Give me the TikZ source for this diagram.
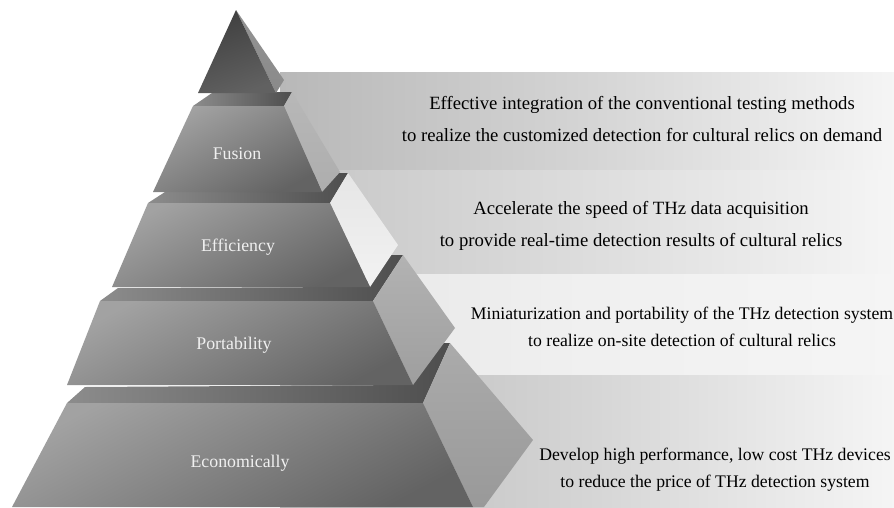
\documentclass[tikz,border=0pt]{standalone}
\usepackage{fontspec}
\setmainfont{Liberation Serif}
\begin{document}
\begin{tikzpicture}[x=1pt,y=-1pt,
  desc/.style={align=center,text=black,font=\fontsize{18.7}{32}\selectfont},
  desctwo/.style={align=center,text=black,font=\fontsize{17.7}{27}\selectfont},
  lvl/.style={text=white!94!black,font=\fontsize{17.8}{20}\selectfont},
  frontface/.style={top color=fronttop,bottom color=frontbot,shading angle=28},
  topface/.style={left color=stripL,right color=stripR},
  bandstyle/.style={left color=#1,right color=white!96!black,middle color=#1!60!white}
]
\definecolor{fronttop}{HTML}{A2A2A2}
\definecolor{frontbot}{HTML}{636363}
\definecolor{stripL}{HTML}{8C8C8C}
\definecolor{stripR}{HTML}{4E4E4E}
\definecolor{bandA}{HTML}{B8B8B8}
\definecolor{bandB}{HTML}{C6C6C6}
\definecolor{bandC}{HTML}{E6E6E6}
\definecolor{bandD}{HTML}{B9B9B9}
\useasboundingbox (0,0) rectangle (894,507);
\fill[white] (0,0) rectangle (894,507);
% background bands
\shade[bandstyle=bandA] (280,72) rectangle (894,170);
\shade[bandstyle=bandB] (280,170) rectangle (894,273);
\shade[bandstyle=bandC] (280,274) rectangle (894,375);
\shade[bandstyle=bandD] (280,375) rectangle (894,507);
% Economically layer
\shade[topface] (67,403) -- (423,403) -- (450,343) -- (430,343) -- (413,385) -- (85,387) -- cycle;
\shade[top color=black!33,bottom color=black!40] (423,403) -- (450,343) -- (533,440) -- (484,507) -- (473,507) -- cycle;
\shade[frontface] (67,403) -- (423,403) -- (473,507) -- (12,507) -- cycle;
% Portability layer
\shade[topface] (100,301) -- (373,301) -- (403,255) -- (388,255) -- (362,287) -- (118,288) -- cycle;
\shade[top color=black!30,bottom color=black!38] (373,301) -- (403,255) -- (455,328) -- (413,385) -- cycle;
\shade[frontface] (100,301) -- (373,301) -- (413,385) -- (67,385) -- cycle;
% Efficiency layer
\shade[topface] (148,203) -- (330,203) -- (348,173) -- (300,173) -- (165,192) -- cycle;
\shade[top color=black!10,bottom color=black!5] (330,203) -- (348,173) -- (398,245) -- (370,287) -- cycle;
\shade[frontface] (148,203) -- (330,203) -- (370,287) -- (112,287) -- cycle;
% Fusion layer
\shade[topface] (193,106) -- (284,106) -- (292,92) -- (212,93) -- cycle;
\shade[top color=black!28,bottom color=black!32] (284,106) -- (292,92) -- (340,172) -- (322,192) -- cycle;
\shade[frontface] (193,106) -- (284,106) -- (322,192) -- (153,192) -- cycle;
% apex
\shade[top color=black!42,bottom color=black!46] (236,10) -- (284,80) -- (276,93) -- cycle;
\shade[top color=black!75,bottom color=black!62,shading angle=20] (236,10) -- (276,93) -- (198,93) -- cycle;
% level labels
\node[lvl] (fusion) at (237,154) {Fusion};
\node[lvl] (efficiency) at (238,247) {Efficiency};
\node[lvl] (portability) at (234,345) {Portability};
\node[lvl] (economically) at (240,463) {Economically};
% descriptions
\node[desc] (d1) at (642,119) {Effective integration of the conventional testing methods\\to realize the customized detection for cultural relics on demand};
\node[desc] (d2) at (641,226) {Accelerate the speed of THz data acquisition\\to provide real-time detection results of cultural relics};
\node[desctwo] (d3) at (682,327) {Miniaturization and portability of the THz detection system\\to realize on-site detection of cultural relics};
\node[desctwo] (d4) at (715,470) {Develop high performance, low cost THz devices\\to reduce the price of THz detection system};
\end{tikzpicture}
\end{document}
